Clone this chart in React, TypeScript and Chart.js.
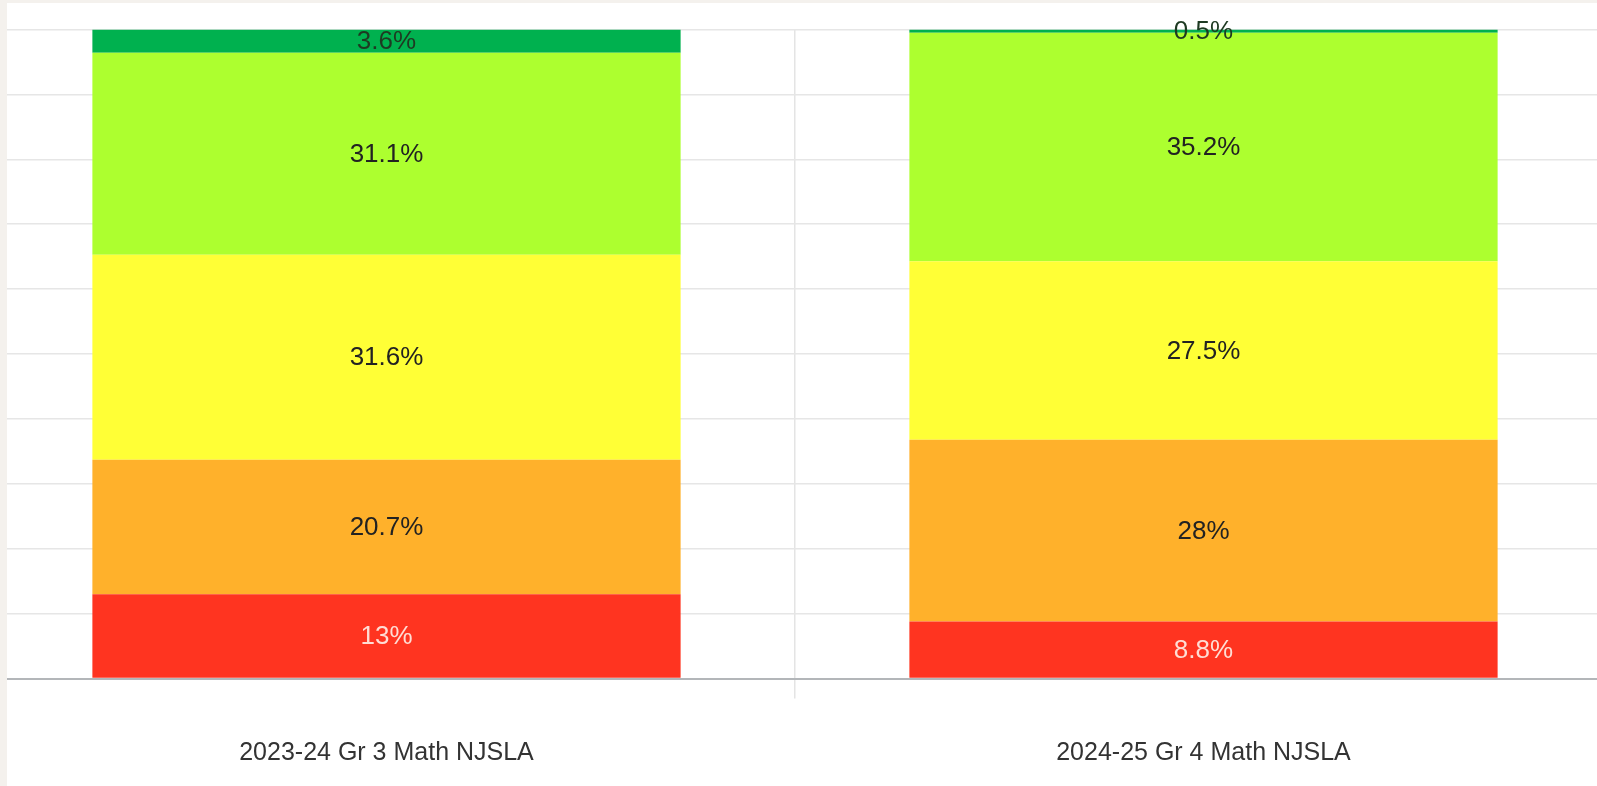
import React, { useEffect, useRef } from "react";
import { Chart, registerables } from "chart.js";

Chart.register(...registerables);

const categories = ["2023-24 Gr 3 Math NJSLA", "2024-25 Gr 4 Math NJSLA"];
const seriesNames = ["Level 1", "Level 2", "Level 3", "Level 4", "Level 5"];
const level1 = [13, 8.8];
const level2 = [20.7, 28];
const level3 = [31.6, 27.5];
const level4 = [31.1, 35.2];
const level5 = [3.6, 0.5];
const seriesColors = ["#ff3420", "#ffb12b", "#ffff36", "#adff2f", "#00b14f"];
const labelColors = ["rgba(255,235,228,0.92)", "#222222", "#222222", "#222222", "#1e3a22"];
const yTicks = [0, 10, 20, 30, 40, 50, 60, 70, 80, 90, 100];

const FONT = "'Liberation Sans', Arial, Helvetica, sans-serif";

const labelPlugin = {
  id: "segLabels",
  afterDatasetsDraw(chart: any) {
    const ctx = chart.ctx;
    ctx.save();
    ctx.font = `26px ${FONT}`;
    ctx.textAlign = "center";
    ctx.textBaseline = "middle";
    chart.data.datasets.forEach((ds: any, di: number) => {
      const meta = chart.getDatasetMeta(di);
      meta.data.forEach((el: any, i: number) => {
        const v = ds.data[i];
        const y = (el.y + el.base) / 2;
        ctx.fillStyle = labelColors[di];
        ctx.fillText(`${v}%`, el.x, y + 1);
      });
    });
    ctx.restore();
  },
};

export default function App() {
  const ref = useRef<HTMLCanvasElement | null>(null);
  useEffect(() => {
    if (!ref.current) return;
    const series = [level1, level2, level3, level4, level5];
    const chart = new Chart(ref.current, {
      type: "bar",
      data: {
        labels: categories,
        datasets: series.map((d, i) => ({
          label: seriesNames[i],
          data: d,
          backgroundColor: seriesColors[i],
          borderWidth: 0,
        })),
      },
      options: {
        animation: false,
        responsive: false,
        maintainAspectRatio: false,
        layout: { padding: { top: 29.5, bottom: 15.5, left: 0, right: 0 } },
        plugins: { legend: { display: false }, tooltip: { enabled: false } },
        scales: {
          x: {
            stacked: true,
            grid: { color: "#e4e4e4", lineWidth: 1.5, tickLength: 20, offset: true },
            border: { color: "#b3b6b9", width: 2 },
            ticks: { color: "#333333", font: { family: FONT, size: 25 }, padding: 40 },
          },
          y: {
            stacked: true,
            min: 0,
            max: 100,
            afterBuildTicks: (axis: any) => {
              axis.ticks = yTicks.map((v) => ({ value: v }));
            },
            grid: { color: "#e6e6e6", lineWidth: 1.5, drawTicks: false },
            border: { display: false },
            ticks: { display: false },
          },
        },
      },
      plugins: [labelPlugin],
    });
    return () => chart.destroy();
  }, []);

  return (
    <div style={{ position: "fixed", left: 0, top: 0, width: "100vw", height: "100vh", background: "#f4f1ed", overflow: "hidden" }}>
      <div style={{ position: "absolute", left: 7, top: 3, right: 0, bottom: 0, background: "#ffffff", overflow: "hidden" }}>
        <canvas
          ref={ref}
          width={1634}
          height={824}
          style={{ position: "absolute", left: -29, top: -3, width: 1634, height: 824 }}
        />
      </div>
    </div>
  );
}
